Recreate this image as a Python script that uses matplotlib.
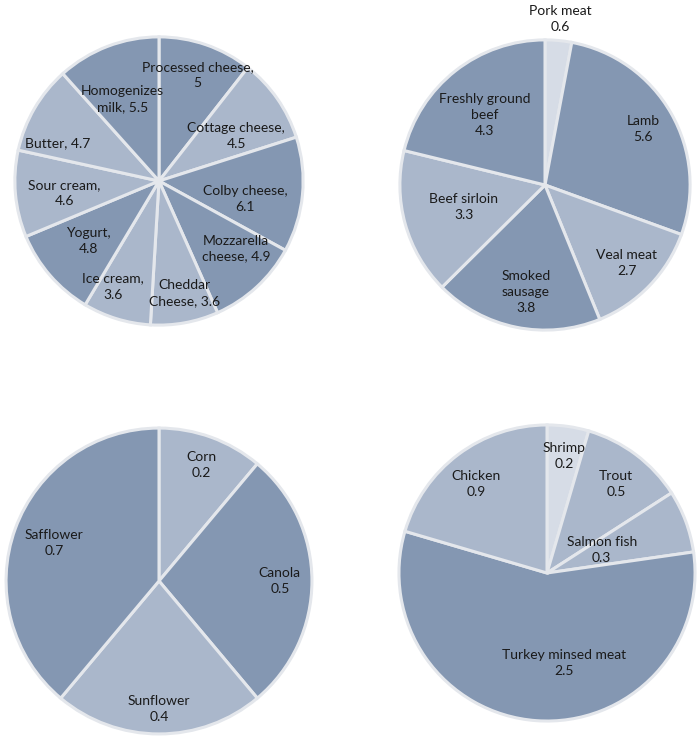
import matplotlib
matplotlib.use("Agg")
import matplotlib.pyplot as plt
import numpy as np

plt.rcParams['font.family'] = ['Lato', 'DejaVu Sans']

# ---- data ----
dairy_labels = ["Processed cheese,\n5", "Cottage cheese,\n4.5", "Colby cheese,\n6.1",
                "Mozzarella\ncheese, 4.9", "Cheddar\nCheese, 3.6", "Ice cream,\n3.6",
                "Yogurt,\n4.8", "Sour cream,\n4.6", "Butter, 4.7", "Homogenizes\nmilk, 5.5"]
dairy_values = [5, 4.5, 6.1, 4.9, 3.6, 3.6, 4.8, 4.6, 4.7, 5.5]

meat_labels = ["Pork meat\n0.6", "Lamb\n5.6", "Veal meat\n2.7", "Smoked\nsausage\n3.8",
               "Beef sirloin\n3.3", "Freshly ground\nbeef\n4.3"]
meat_values = [0.6, 5.6, 2.7, 3.8, 3.3, 4.3]

oil_labels = ["Corn\n0.2", "Canola\n0.5", "Sunflower\n0.4", "Safflower\n0.7"]
oil_values = [0.2, 0.5, 0.4, 0.7]

fish_labels = ["Shrimp\n0.2", "Trout\n0.5", "Salmon fish\n0.3", "Turkey minsed meat\n2.5",
               "Chicken\n0.9"]
fish_values = [0.2, 0.5, 0.3, 2.5, 0.9]

# ---- styles ----
DARK = "#8497b2"
LIGHT = "#aab7cb"
VLIGHT = "#d6dce6"
EDGE = "#e4e7ec"

W, H = 700, 740
fig = plt.figure(figsize=(W / 100, H / 100), dpi=100)


def draw(cx, cy, r, values, labels, colors, lab_r, lab_off, fontsize=10):
    ax = fig.add_axes([(cx - r) / W, 1 - (cy + r) / H, 2 * r / W, 2 * r / H])
    wedges, _ = ax.pie(values, colors=colors, startangle=90, counterclock=False,
                       radius=1.0,
                       wedgeprops=dict(edgecolor=EDGE, linewidth=2.2))
    for w, lab, lr, off in zip(wedges, labels, lab_r, lab_off):
        # positive offset = further clockwise
        mid = np.deg2rad((w.theta1 + w.theta2) / 2 - off)
        ax.text(lr * np.cos(mid), lr * np.sin(mid), lab, ha="center", va="center",
                fontsize=fontsize, color="#1a1a1a", linespacing=1.4)
    ax.set_xlim(-1.02, 1.02)
    ax.set_ylim(-1.02, 1.02)
    ax.set_aspect("equal")
    ax.axis("off")
    return ax


draw(159, 181, 147, dairy_values, dairy_labels,
     [DARK, LIGHT, DARK, DARK, LIGHT, LIGHT, DARK, LIGHT, LIGHT, DARK],
     [0.78, 0.62, 0.61, 0.71, 0.80, 0.80, 0.64, 0.66, 0.75, 0.62],
     [1, 4.5, 6.5, -6, -2.5, 6.5, 0.5, -2, -9.5, -3])

draw(545, 185, 148, meat_values, meat_labels,
     [VLIGHT, DARK, LIGHT, DARK, LIGHT, DARK],
     [1.15, 0.78, 0.78, 0.75, 0.58, 0.64],
     [0, 0, 0, -1.5, 0.5, -2.5])

draw(159, 581, 156, oil_values, oil_labels,
     [LIGHT, DARK, LIGHT, DARK],
     [0.81, 0.79, 0.84, 0.73],
     [0, 0, 0, 0])

draw(547, 573, 151, fish_values, fish_labels,
     [VLIGHT, LIGHT, LIGHT, DARK, LIGHT],
     [0.80, 0.76, 0.40, 0.62, 0.77],
     [0, 1, -2, -15, -1.5])

fig.savefig("out.png", dpi=100, facecolor="white")
